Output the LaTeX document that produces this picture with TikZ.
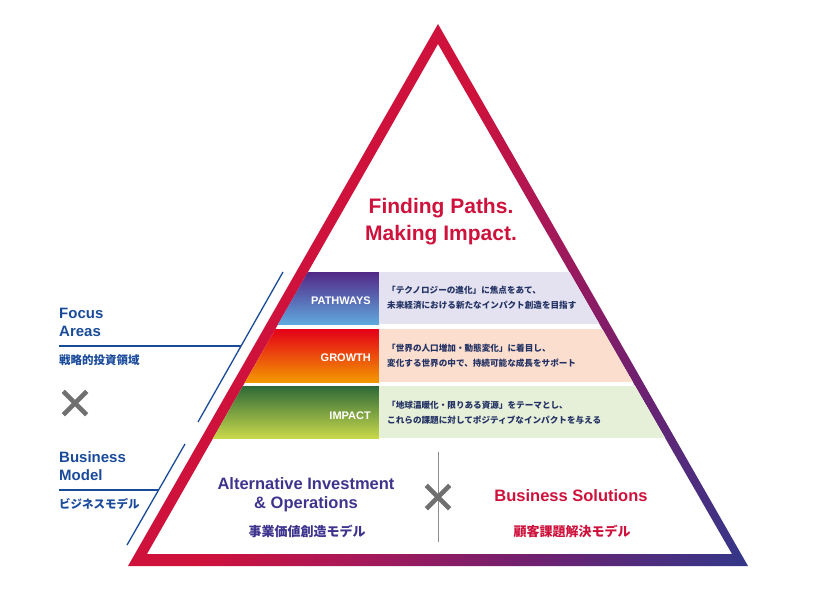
\documentclass[tikz,border=0pt]{standalone}
\usepackage{fontspec}
\setmainfont{Liberation Sans}
\newfontfamily\jpfont{Noto Sans CJK JP}
\usetikzlibrary{positioning}
\definecolor{crimson}{RGB}{206,18,60}
\definecolor{rosewine}{RGB}{168,24,88}
\definecolor{plum}{RGB}{112,32,111}
\definecolor{violet}{RGB}{74,47,128}
\definecolor{navyblue}{RGB}{38,60,142}
\definecolor{focusblue}{RGB}{26,75,155}
\definecolor{textnavy}{RGB}{35,50,100}
\definecolor{crossgray}{RGB}{112,112,112}
\definecolor{altblue}{RGB}{62,52,142}
\definecolor{pathtop}{RGB}{82,40,135}
\definecolor{pathbot}{RGB}{95,168,222}
\definecolor{growtop}{RGB}{228,0,25}
\definecolor{growbot}{RGB}{243,152,0}
\definecolor{imptop}{RGB}{45,105,55}
\definecolor{impbot}{RGB}{200,216,75}
\definecolor{pathbg}{RGB}{228,226,240}
\definecolor{growbg}{RGB}{251,222,206}
\definecolor{impbg}{RGB}{230,239,216}
\pgfdeclarehorizontalshading{pyramidedge}{100bp}{color(0bp)=(crimson); color(44bp)=(crimson);
  color(55bp)=(rosewine); color(68bp)=(plum); color(78bp)=(violet); color(88bp)=(navyblue); color(100bp)=(navyblue)}
\begin{document}
\begin{tikzpicture}[x=1pt, y=-1pt,
    band/.style={font=\bfseries\fontsize{11}{13}\selectfont, text=white, anchor=east, inner sep=0},
    note/.style={font=\jpfont\bfseries\fontsize{8.6}{14.5}\selectfont, text=textnavy, align=left, anchor=west, inner sep=0},
    side/.style={font=\bfseries\fontsize{15}{18}\selectfont, text=focusblue, align=left, inner sep=0},
    sidejp/.style={font=\jpfont\bfseries\fontsize{11.5}{13}\selectfont, text=focusblue, inner sep=0},
    model/.style={font=\bfseries\fontsize{16.5}{19}\selectfont, align=center},
    modeljp/.style={font=\jpfont\bfseries\fontsize{13}{15}\selectfont},
    cross/.style={minimum size=23pt, inner sep=0},
    crossline/.style={crossgray, line width=4.6pt},
    rule/.style={focusblue, line width=1.3pt}]
  \useasboundingbox (0,0) rectangle (824,600);

  \shade[even odd rule, shading=pyramidedge, shading angle=-30]
    (438,24) -- (748,566) -- (128,566) -- cycle (438,44) -- (732,554) -- (147,554) -- cycle;

  \begin{scope}
    \clip (438,44) -- (732,554) -- (147,554) -- cycle;
    \shade[top color=pathtop, bottom color=pathbot] (100,272) rectangle (379,324);
    \fill[pathbg] (379,272) rectangle (760,324);
    \shade[top color=growtop, bottom color=growbot] (100,329) rectangle (379,382);
    \fill[growbg] (379,329) rectangle (760,382);
    \shade[top color=imptop, bottom color=impbot] (100,386) rectangle (379,438);
    \fill[impbg] (379,386) rectangle (760,438);
  \end{scope}

  \node(title)[font=\bfseries\fontsize{21}{27}\selectfont, text=crimson, align=center] at (441,222) {Finding Paths.\\Making Impact.};

  \node(pathways)[band] at (371,301) {PATHWAYS};
  \node(pathwaysnote)[note] at (387,298) {「テクノロジーの進化」に焦点をあて、\\未来経済における新たなインパクト創造を目指す};
  \node(growth)[band] at (371,358) {GROWTH};
  \node(growthnote)[note] at (387,356) {「世界の人口増加・動態変化」に着目し、\\変化する世界の中で、持続可能な成長をサポート};
  \node(impact)[band] at (371,416) {IMPACT};
  \node(impactnote)[note] at (387,413) {「地球温暖化・限りある資源」をテーマとし、\\これらの課題に対してポジティブなインパクトを与える};

  \coordinate(focusrule) at (59,346);
  \coordinate(focusjoin) at (241,346);
  \coordinate(focustop) at (283,272);
  \coordinate(focusbot) at (198,422);
  \node(focus)[side, above right=9pt and 0pt of focusrule] {Focus\\Areas};
  \node(focusjp)[sidejp, below right=8pt and 0pt of focusrule] {戦略的投資領域};
  \draw[rule] (focusrule) -- (focusjoin);
  \draw[rule] (focustop) -- (focusbot);

  \node(crossL)[cross] at (75,403) {};
  \draw[crossline] (crossL.north west) -- (crossL.south east) (crossL.north east) -- (crossL.south west);

  \coordinate(modelrule) at (59,490);
  \coordinate(modeljoin) at (159,490);
  \coordinate(modeltop) at (185,444);
  \coordinate(modelbot) at (127,545);
  \node(model)[side, above right=9pt and 0pt of modelrule] {Business\\Model};
  \node(modeljp)[sidejp, below right=8pt and 0pt of modelrule] {ビジネスモデル};
  \draw[rule] (modelrule) -- (modeljoin);
  \draw[rule] (modeltop) -- (modelbot);

  \coordinate(divtop) at (438,452);
  \coordinate(divbot) at (438,542);
  \draw[crossgray!80, line width=0.9pt] (divtop) -- (divbot);
  \node(crossM)[cross] at (438,497) {};
  \draw[crossline] (crossM.north west) -- (crossM.south east) (crossM.north east) -- (crossM.south west);

  \node(altinv)[model, text=altblue] at (306,495) {Alternative Investment\\\& Operations};
  \node(altjp)[modeljp, text=altblue] at (307,531) {事業価値創造モデル};
  \node(bizsol)[model, text=crimson] at (571,496) {Business Solutions};
  \node(bizjp)[modeljp, text=crimson] at (572,531) {顧客課題解決モデル};
\end{tikzpicture}
\end{document}
